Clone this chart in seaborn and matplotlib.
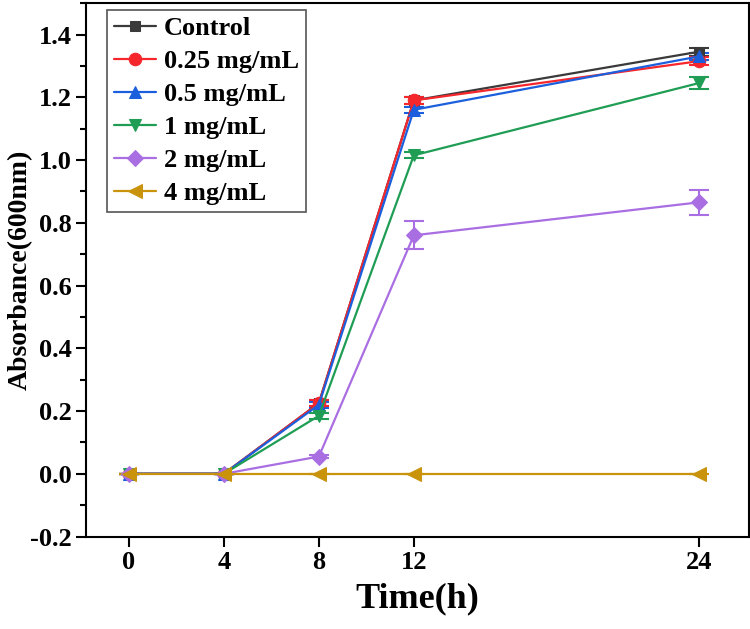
import matplotlib
matplotlib.use("Agg")
import matplotlib.pyplot as plt
import pandas as pd
import numpy as np
import seaborn as sns
from matplotlib.ticker import MultipleLocator

# data
time_h = [0, 4, 8, 12, 24]
groups = ["Control", "0.25 mg/mL", "0.5 mg/mL", "1 mg/mL", "2 mg/mL", "4 mg/mL"]
control = [0.0, 0.0, 0.225, 1.19, 1.345]
conc_025 = [0.0, 0.0, 0.225, 1.19, 1.315]
conc_05 = [0.0, 0.0, 0.22, 1.16, 1.33]
conc_1 = [0.0, 0.0, 0.185, 1.015, 1.245]
conc_2 = [0.0, 0.0, 0.055, 0.76, 0.865]
conc_4 = [0.0, 0.0, 0.0, 0.0, 0.0]
# standard deviations
sd_control = [0.0, 0.0, 0.01, 0.01, 0.012]
sd_025 = [0.0, 0.0, 0.01, 0.01, 0.012]
sd_05 = [0.0, 0.0, 0.01, 0.01, 0.012]
sd_1 = [0.0, 0.0, 0.01, 0.01, 0.02]
sd_2 = [0.0, 0.0, 0.005, 0.045, 0.04]
sd_4 = [0.0, 0.0, 0.0, 0.0, 0.0]

values = [control, conc_025, conc_05, conc_1, conc_2, conc_4]
sds = [sd_control, sd_025, sd_05, sd_1, sd_2, sd_4]
colors = ["#3a3a3a", "#f5262c", "#1c5fdc", "#1f9d55", "#a96ee2", "#c9930c"]
markers = ["s", "o", "^", "v", "D", "<"]
msizes = [7, 9, 9, 9, 8, 10]

rows = []
for g, v, s in zip(groups, values, sds):
    for t, y, e in zip(time_h, v, s):
        rows.append({"Time": t, "Absorbance": y, "SD": e, "Group": g})
df = pd.DataFrame(rows)

sns.set_style("ticks")
plt.rcParams["font.family"] = ["Liberation Serif", "DejaVu Serif"]
plt.rcParams["font.weight"] = "bold"
for k in ["text.color", "axes.labelcolor", "xtick.color", "ytick.color", "axes.edgecolor"]:
    plt.rcParams[k] = "black"

fig, ax = plt.subplots(figsize=(7.5, 6.29), dpi=100)

for g, c, m, ms in zip(groups, colors, markers, msizes):
    sub = df[df["Group"] == g]
    ax.errorbar(sub["Time"], sub["Absorbance"], yerr=sub["SD"], fmt="none",
                ecolor=c, elinewidth=1.5, capsize=7, capthick=1.5, zorder=2)
    sns.lineplot(data=sub, x="Time", y="Absorbance", color=c, marker=m,
                 markersize=ms, markeredgecolor=c, linewidth=1.6,
                 label=g, ax=ax, zorder=3)

ax.set_xlim(-1.8, 26.1)
ax.set_ylim(-0.2, 1.5)
ax.set_xticks(time_h)
ax.yaxis.set_minor_locator(MultipleLocator(0.1))
yt = [-0.2, 0.0, 0.2, 0.4, 0.6, 0.8, 1.0, 1.2, 1.4]
ax.set_yticks(yt)
ax.set_yticklabels([f"{v:.1f}" for v in yt])

for sp in ax.spines.values():
    sp.set_linewidth(1.5)
    sp.set_color("black")
ax.tick_params(axis="both", which="major", direction="out", length=7, width=1.5,
               labelsize=19, colors="black")
ax.tick_params(axis="y", which="minor", direction="out", length=4, width=1.5)
for lab in ax.get_xticklabels() + ax.get_yticklabels():
    lab.set_fontweight("bold")

ax.set_xlabel("Time(h)", fontsize=26, fontweight="bold", labelpad=6)
ax.set_ylabel("Absorbance(600nm)", fontsize=20, fontweight="bold", va="center")
ax.yaxis.set_label_coords(-0.1, 0.5)

leg = ax.legend(loc="upper left", bbox_to_anchor=(0.032, 0.987), borderaxespad=0,
                fontsize=19, frameon=True, fancybox=False, framealpha=1,
                edgecolor="#555555", handlelength=1.6, handletextpad=0.3,
                borderpad=0.25, labelspacing=0.36)
leg.get_frame().set_linewidth(1.2)
for t in leg.get_texts():
    t.set_fontweight("bold")

fig.subplots_adjust(left=0.115, right=0.998, top=0.995, bottom=0.147)
fig.savefig("out.png", dpi=100)
